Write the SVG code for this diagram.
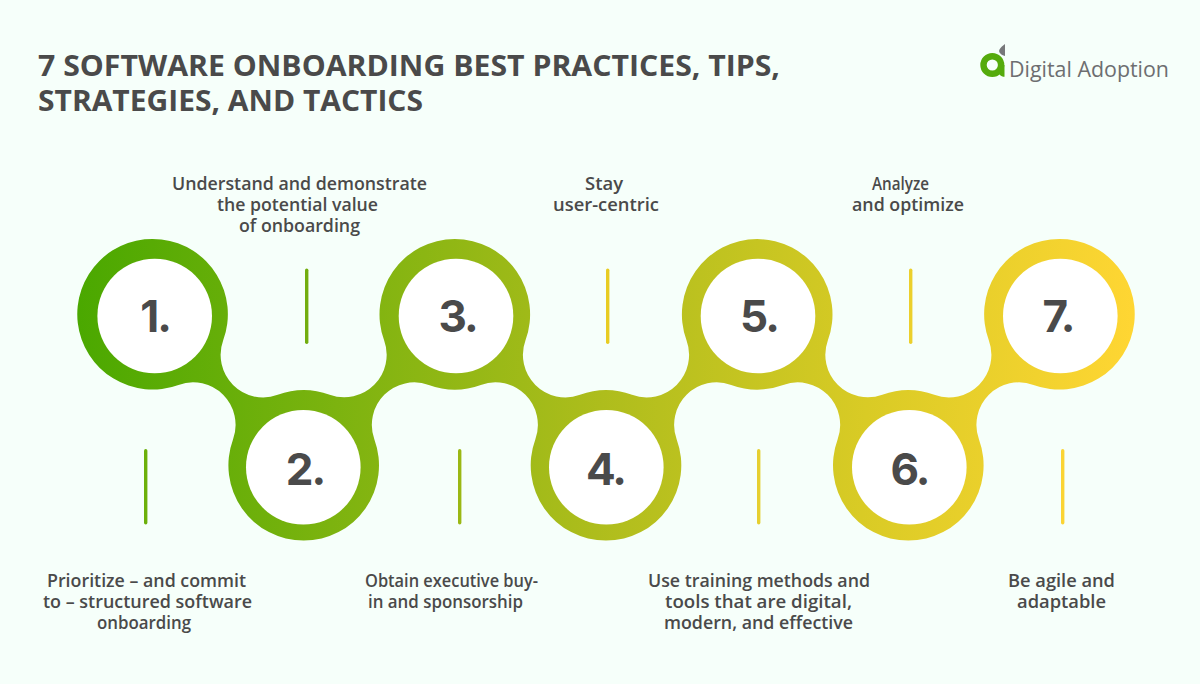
<svg xmlns="http://www.w3.org/2000/svg" width="1200" height="684" viewBox="0 0 1200 684">
<style>
.t{font-family:"Open Sans","Liberation Sans",sans-serif;font-weight:600;fill:#4a4a4a}
.title{font-size:29px;font-weight:700}
.lbl{font-size:17.500px}
.num{font-family:"Inter","Liberation Sans",sans-serif;font-weight:700;font-size:44px;letter-spacing:-2px;fill:#4a4a4a;text-anchor:middle}
.hole{fill:#fff}
</style>
<defs>
<linearGradient id="g" gradientUnits="userSpaceOnUse" x1="77" y1="290" x2="1135" y2="340">
<stop offset="0" stop-color="#4aa800"/>
<stop offset=".25" stop-color="#7cb30f"/>
<stop offset=".5" stop-color="#aebd1c"/>
<stop offset=".75" stop-color="#d9cb25"/>
<stop offset="1" stop-color="#ffd633"/>
</linearGradient>
</defs>
<rect width="1200" height="684" fill="#f6fffa"/>
<g id="title">
<text class="t title" x="38" y="76" textLength="742" lengthAdjust="spacingAndGlyphs">7 SOFTWARE ONBOARDING BEST PRACTICES, TIPS,</text>
<text class="t title" x="38" y="111" textLength="385" lengthAdjust="spacingAndGlyphs">STRATEGIES, AND TACTICS</text>
</g>
<g id="logo">
<circle cx="992.300" cy="65" r="8.800" fill="none" stroke="#55ab0c" stroke-width="6.400"/>
<path d="M998.500 65H1004.500V76.800C1000.500 76.800 998.500 74 998.500 70Z" fill="#55ab0c"/>
<path d="M1005 44V56C1001 55 998 52 999.500 49.500C1000.500 47.500 1003 45.500 1005 44Z" fill="#77787a"/>
<text x="1009" y="77" font-family="'Open Sans', 'Liberation Sans', sans-serif" font-size="22" fill="#6d6e70" textLength="160" lengthAdjust="spacingAndGlyphs">Digital Adoption</text>
</g>
<g id="connectors">
<path id="ribbon" fill="url(#g)" d="M178.500 384.900A75.300 75.300 0 1 1 223.200 340.300A42.500 42.500 0 0 0 277.700 394.800A75.300 75.300 0 0 1 329.700 394.800A42.500 42.500 0 0 0 384.100 340.300A75.300 75.300 0 1 1 525.500 340.300A42.500 42.500 0 0 0 580 394.800A75.300 75.300 0 0 1 632 394.800A42.500 42.500 0 0 0 686.500 340.300A75.300 75.300 0 1 1 827.900 340.300A42.500 42.500 0 0 0 882.300 394.800A75.300 75.300 0 0 1 934.300 394.800A42.500 42.500 0 0 0 988.800 340.300A75.300 75.300 0 1 1 1033.500 384.900A42.500 42.500 0 0 0 979 439.400A75.300 75.300 0 1 1 837.600 439.400A42.500 42.500 0 0 0 783.200 384.900A75.300 75.300 0 0 1 731.200 384.900A42.500 42.500 0 0 0 676.700 439.400A75.300 75.300 0 1 1 535.300 439.400A42.500 42.500 0 0 0 480.800 384.900A75.300 75.300 0 0 1 428.800 384.900A42.500 42.500 0 0 0 374.400 439.400A75.300 75.300 0 1 1 233 439.400A42.500 42.500 0 0 0 178.500 384.900Z"/>
<rect fill="#6cb00a" x="144" y="449" width="3.400" height="75.500" rx="1.700"/>
<rect fill="#72ad0e" x="305" y="268.500" width="3.400" height="75.500" rx="1.700"/>
<rect fill="#9bb813" x="458" y="449" width="3.400" height="75.500" rx="1.700"/>
<rect fill="#e8cc22" x="606" y="268.500" width="3.400" height="75.500" rx="1.700"/>
<rect fill="#e6cf30" x="757" y="449" width="3.400" height="75.500" rx="1.700"/>
<rect fill="#ecd02c" x="909" y="268.500" width="3.400" height="75.500" rx="1.700"/>
<rect fill="#fbd433" x="1061" y="449" width="3.400" height="75.500" rx="1.700"/>
</g>
<g id="n1"><circle class="hole" cx="154.700" cy="316" r="57.300"/><text class="num" x="155" y="332">1.</text>
<text class="t lbl" x="47" y="587" textLength="199" lengthAdjust="spacingAndGlyphs">Prioritize – and commit</text>
<text class="t lbl" x="43" y="608" textLength="209" lengthAdjust="spacingAndGlyphs">to – structured software</text>
<text class="t lbl" x="97" y="629" textLength="94" lengthAdjust="spacingAndGlyphs">onboarding</text></g>
<g id="n2"><circle class="hole" cx="303.300" cy="467.300" r="57.300"/><text class="num" x="305" y="485">2.</text>
<text class="t lbl" x="172" y="190" textLength="255" lengthAdjust="spacingAndGlyphs">Understand and demonstrate</text>
<text class="t lbl" x="217" y="211" textLength="161" lengthAdjust="spacingAndGlyphs">the potential value</text>
<text class="t lbl" x="239" y="232" textLength="121" lengthAdjust="spacingAndGlyphs">of onboarding</text></g>
<g id="n3"><circle class="hole" cx="456" cy="316" r="57.300"/><text class="num" x="457.500" y="332">3.</text>
<text class="t lbl" x="365" y="587" textLength="173" lengthAdjust="spacingAndGlyphs">Obtain executive buy-</text>
<text class="t lbl" x="368" y="608" textLength="155" lengthAdjust="spacingAndGlyphs">in and sponsorship</text></g>
<g id="n4"><circle class="hole" cx="606.300" cy="467.300" r="57.300"/><text class="num" x="605.500" y="485">4.</text>
<text class="t lbl" x="585" y="190" textLength="38" lengthAdjust="spacingAndGlyphs">Stay</text>
<text class="t lbl" x="553" y="211" textLength="106" lengthAdjust="spacingAndGlyphs">user-centric</text></g>
<g id="n5"><circle class="hole" cx="758" cy="316" r="57.300"/><text class="num" x="759" y="332">5.</text>
<text class="t lbl" x="648" y="587" textLength="222" lengthAdjust="spacingAndGlyphs">Use training methods and</text>
<text class="t lbl" x="665" y="608" textLength="187" lengthAdjust="spacingAndGlyphs">tools that are digital,</text>
<text class="t lbl" x="664" y="629" textLength="189" lengthAdjust="spacingAndGlyphs">modern, and effective</text></g>
<g id="n6"><circle class="hole" cx="909.300" cy="467.300" r="57.300"/><text class="num" x="909.500" y="485">6.</text>
<text class="t lbl" x="872" y="190" textLength="57" lengthAdjust="spacingAndGlyphs">Analyze</text>
<text class="t lbl" x="852" y="211" textLength="112" lengthAdjust="spacingAndGlyphs">and optimize</text></g>
<g id="n7"><circle class="hole" cx="1060.300" cy="316" r="57.300"/><text class="num" x="1058" y="332">7.</text>
<text class="t lbl" x="1008" y="587" textLength="107" lengthAdjust="spacingAndGlyphs">Be agile and</text>
<text class="t lbl" x="1017" y="608" textLength="89" lengthAdjust="spacingAndGlyphs">adaptable</text></g>
</svg>
